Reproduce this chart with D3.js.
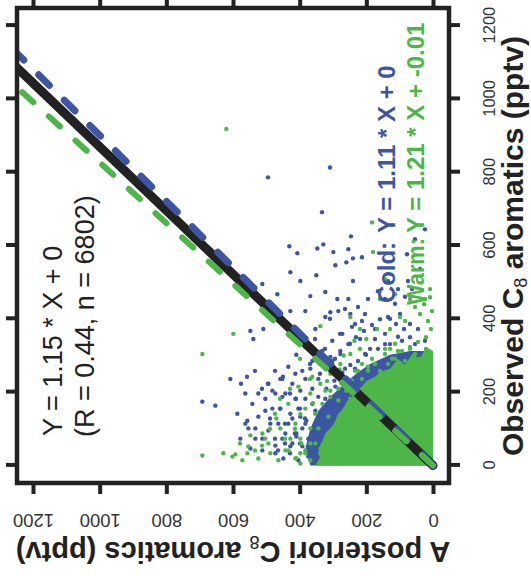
<!DOCTYPE html>
<html>
<head>
<meta charset="utf-8">
<script src="https://cdn.jsdelivr.net/npm/d3@7"></script>
<style>
  body { margin: 0; background: #fff; }
  svg { display: block; }
</style>
</head>
<body>
<svg width="531" height="576"></svg>
<script>
// [observed, a posteriori] in pptv
const coldPoints = [
  [786,495],[813,309],[691,333],[625,246],[598,431],[579,407],[592,347],[603,329],[582,299],[590,254],
  [565,240],[568,213],[546,293],[554,260],[527,428],[503,398],[519,350],[503,240],[495,512],[576,78],
  [174,692],[163,653],[236,608],[141,587],[122,557],[367,548],[467,467],[421,428],[462,368],[473,323],
  [454,287],[413,248],[418,308],[421,383],[372,509],[345,539],
  [223,576],[242,558],[258,534],[209,513],[223,495],[258,474],[242,450],[196,429],[182,411],[155,399],
  [128,384],[155,459],[128,489],[114,444],[87,414],[73,474],[60,444],[60,399],[46,369],[33,345],
  [33,429],[41,465],
  [454,144],[441,114],[460,84],[400,129],[413,99],[386,69],[359,144],[372,174],[351,105],[372,45],
  [481,63],[536,39],[617,54],[644,24],
  [400,309],[427,264],[386,234],[413,204],[359,279],[332,249],[345,219],[318,189],[318,324],[291,294],
  [264,264],[345,354],[277,369],[250,339],
  [19,449],[52,428],[79,410],[101,392],[73,374],[41,362],[60,344],[128,422],[155,404],[182,383],
  [209,362],[236,344],[264,323],[285,302],[312,278],[331,254],[350,231],[367,207],[383,183],[399,159],
  [405,135],[386,111],[372,87],[350,69],[331,144],[345,174],[304,204],[264,234],[236,263],[215,293],
  [182,323],[149,353],[114,383],[87,443],[114,464],[155,482],[187,452],[223,422],[258,392],[285,362],
  [312,332],[340,302],[359,272],[378,243],[394,213],[95,494],[54,473],[41,512],[73,533],[101,554],
  [133,524],[182,503],[204,482],[236,458],[269,434],[302,410],[323,383],[372,353],[405,323],[421,284],
  [454,254],[432,225],[454,195],[475,165],[503,135],[481,105],[503,75],
  [196,563],[168,542],[196,524],[149,503],[114,488],[73,512],[46,548],[73,578],[114,563],[101,533],
  [33,473],[73,452],[114,434],[155,458],[196,443],[182,413],[141,428],[196,473],[223,494],[236,452],
  [250,413],[236,383],[204,398],[264,368],[277,338],[296,308],[304,278],
  [14,404],[52,392],[87,410],[122,380],[133,398],[168,362],[187,344],[209,320],[231,296],[253,272],
  [274,248],[285,225],[302,201],[318,165],[331,129],[340,93],[331,54],[340,24],[60,422],[24,374],
  [73,353],[114,332],[149,302],[182,278],[204,254]
];
const warmPoints = [
  [918,620],[663,183],[582,180],[304,692],[359,599],[27,692],[33,629],[30,593],[33,557],[82,548],
  [73,503],[380,338],[372,168],[432,54],[394,84],[454,24],[481,9],[413,39],[332,114],[318,144],
  [291,399],[236,369],[209,429],[182,459],[141,474],[100,489],[73,444],[100,414],[54,513],[41,534],
  [60,579],
  [258,159],[277,135],[291,114],[312,93],[323,69],[337,45],[350,21],[372,6],[394,15],[421,3],
  [440,27],[459,9],[318,21],[304,54],[285,84],[264,114],[277,174],[318,129],[291,39],
  [19,308],[46,323],[73,314],[101,293],[128,278],[155,263],[182,248],[209,234],[236,213],[258,195],
  [33,338],[60,353],[14,368],[41,383],[101,344],[133,314],[177,284],[204,260],[231,243],[258,225],
  [114,413],[155,383],[73,428],[33,398],[41,443],[101,458],[196,368],[223,338],[250,308],[277,278],
  [304,248],[318,219],[204,308],[242,362],[215,404],[168,434],[128,470],[60,494],[87,512],[19,524],
  [52,554],[14,572],[24,602],[33,488],[14,464],
  [508,144],[467,114],[454,159],[405,99],[454,69],[372,129],[372,219],[405,248],
  [20,410],[60,395],[140,398],[170,360],[230,318],[262,280],[300,268],[340,236],[345,200],
  [73,398],[33,383],[101,368],[141,353],[168,332],[187,308],[209,284],[236,263],[258,234],[277,213],
  [291,183],[304,144],[312,105],[318,69],[5,398],[19,413],[41,434],[60,368],[204,323],[223,248],
  [269,195],[291,123]
];
// outline of the solid cloud where the points pile up near the origin
const coldCore = [
  [0,0],[0,368],[46,383],[101,368],[149,344],[187,308],[220,269],[250,231],[277,189],[302,129],
  [312,69],[312,0]
];
const warmCore = [
  [0,0],[0,353],[20,340],[46,344],[70,330],[87,323],[110,300],[122,293],[140,285],[155,269],
  [175,258],[187,243],[200,236],[215,213],[230,200],[242,174],[255,160],[264,129],[291,105],
  [274,84],[304,63],[291,39],[323,21],[312,0]
];
const ticks = [0, 200, 400, 600, 800, 1000, 1200];
// fits: a posteriori = slope * observed + intercept
const fitAll = { slope: 1.15, intercept: 0 };
const fitCold = { slope: 1.11, intercept: 0 };
const fitWarm = { slope: 1.21, intercept: -0.01 };

const blue = "#3d55a5";
const green = "#4cb748";
const ink = "#222";
const font = "Liberation Sans, Arial, sans-serif";

const svg = d3.select("svg");
// the figure is laid on its side: draw it upright and turn it
const g = svg.append("g").attr("transform", "translate(0,576) rotate(-90)");

const x = d3.scaleLinear().domain([-48, 1248]).range([93, 568]);
const y = d3.scaleLinear().domain([-48, 1248]).range([449, 17]);

g.append("clipPath").attr("id", "plotClip")
  .append("rect")
  .attr("x", 93).attr("y", 17).attr("width", 475).attr("height", 432);

const plot = g.append("g").attr("clip-path", "url(#plotClip)");

const path = d3.line().x(d => x(d[0])).y(d => y(d[1]));

plot.append("path").attr("d", path(coldCore) + "Z").attr("fill", blue);
plot.append("g").selectAll("circle").data(coldPoints).join("circle")
  .attr("cx", d => x(d[0])).attr("cy", d => y(d[1])).attr("r", 2.2).attr("fill", blue);

plot.append("path").attr("d", path(warmCore) + "Z").attr("fill", green);
plot.append("g").selectAll("circle").data(warmPoints).join("circle")
  .attr("cx", d => x(d[0])).attr("cy", d => y(d[1])).attr("r", 2.2).attr("fill", green);

// regression lines
function fitLine(f) {
  return [[0, f.intercept], [1200, f.slope * 1200 + f.intercept]];
}
plot.append("path").attr("d", path(fitLine(fitAll)))
  .attr("stroke", ink).attr("stroke-width", 9).attr("fill", "none").attr("stroke-linecap", "round");
plot.append("path").attr("d", path(fitLine(fitCold)))
  .attr("stroke", blue).attr("stroke-width", 7).attr("fill", "none")
  .attr("stroke-linecap", "round").attr("stroke-dasharray", "15,21");
plot.append("path").attr("d", path(fitLine(fitWarm)))
  .attr("stroke", green).attr("stroke-width", 6).attr("fill", "none")
  .attr("stroke-linecap", "round").attr("stroke-dasharray", "15,21");

// frame
g.append("rect").attr("x", 93).attr("y", 17).attr("width", 475).attr("height", 432)
  .attr("fill", "none").attr("stroke", ink).attr("stroke-width", 4.5);

// axes
const xAxis = g.append("g").attr("transform", "translate(0,449)")
  .call(d3.axisBottom(x).tickValues(ticks).tickSize(11).tickFormat(d3.format("d")));
xAxis.select(".domain").remove();
xAxis.selectAll("line").attr("stroke", ink).attr("stroke-width", 4);
xAxis.selectAll("text").attr("y", 34).attr("font-size", 16.5)
  .attr("font-family", font).attr("fill", "#333");

const yAxis = g.append("g").attr("transform", "translate(93,0)")
  .call(d3.axisLeft(y).tickValues(ticks).tickSize(11).tickFormat(d3.format("d")));
yAxis.select(".domain").remove();
yAxis.selectAll("line").attr("stroke", ink).attr("stroke-width", 4);
yAxis.selectAll("text").attr("x", null).attr("dy", null).attr("text-anchor", "middle")
  .attr("transform", "translate(-31,0) rotate(-90)").attr("font-size", 18.5)
  .attr("font-family", font).attr("fill", "#333");

// top and right ticks without labels
g.append("g").attr("transform", "translate(0,17)")
  .call(d3.axisTop(x).tickValues(ticks).tickSize(11).tickFormat(""))
  .call(a => a.select(".domain").remove())
  .selectAll("line").attr("stroke", ink).attr("stroke-width", 4);
g.append("g").attr("transform", "translate(568,0)")
  .call(d3.axisRight(y).tickValues(ticks).tickSize(11).tickFormat(""))
  .call(a => a.select(".domain").remove())
  .selectAll("line").attr("stroke", ink).attr("stroke-width", 4);

// axis titles
const xTitle = g.append("text").attr("x", 330).attr("y", 523)
  .attr("text-anchor", "middle").attr("font-weight", "bold").attr("font-size", 30)
  .attr("font-family", font).attr("fill", ink);
xTitle.append("tspan").text("Observed C");
xTitle.append("tspan").text("8").attr("font-size", 18).attr("font-weight", "normal").attr("dy", 4);
xTitle.append("tspan").text(" aromatics (pptv)").attr("dy", -4);

const yTitle = g.append("text").attr("transform", "translate(34,233) rotate(-90)")
  .attr("text-anchor", "middle").attr("font-weight", "bold").attr("font-size", 29)
  .attr("font-family", font).attr("fill", ink);
yTitle.append("tspan").text("A posteriori C");
yTitle.append("tspan").text("8").attr("font-size", 18).attr("font-weight", "normal").attr("dy", 6);
yTitle.append("tspan").text(" aromatics (pptv)").attr("dy", -6);

// fit annotations
const fmt = f => `Y = ${f.slope.toFixed(2)} * X + ${f.intercept === 0 ? 0 : f.intercept}`;
const note = g.append("g").attr("font-family", font);
note.append("text").attr("x", 140).attr("y", 62).attr("font-size", 27).attr("fill", ink)
  .text(fmt(fitAll));
note.append("text").attr("x", 139).attr("y", 94).attr("font-size", 27).attr("fill", ink)
  .text("(R = 0.44, n = 6802)");
note.append("text").attr("x", 273).attr("y", 395).attr("font-size", 24).attr("font-weight", "bold")
  .attr("fill", blue).attr("textLength", 61).attr("lengthAdjust", "spacingAndGlyphs").text("Cold:");
note.append("text").attr("x", 343).attr("y", 395).attr("font-size", 24).attr("font-weight", "bold")
  .attr("fill", blue).text(fmt(fitCold));
note.append("text").attr("x", 271).attr("y", 424).attr("font-size", 24).attr("font-weight", "bold")
  .attr("fill", green).attr("textLength", 67).attr("lengthAdjust", "spacingAndGlyphs").text("Warm:");
note.append("text").attr("x", 343).attr("y", 424).attr("font-size", 24).attr("font-weight", "bold")
  .attr("fill", green).text(fmt(fitWarm));
</script>
</body>
</html>
